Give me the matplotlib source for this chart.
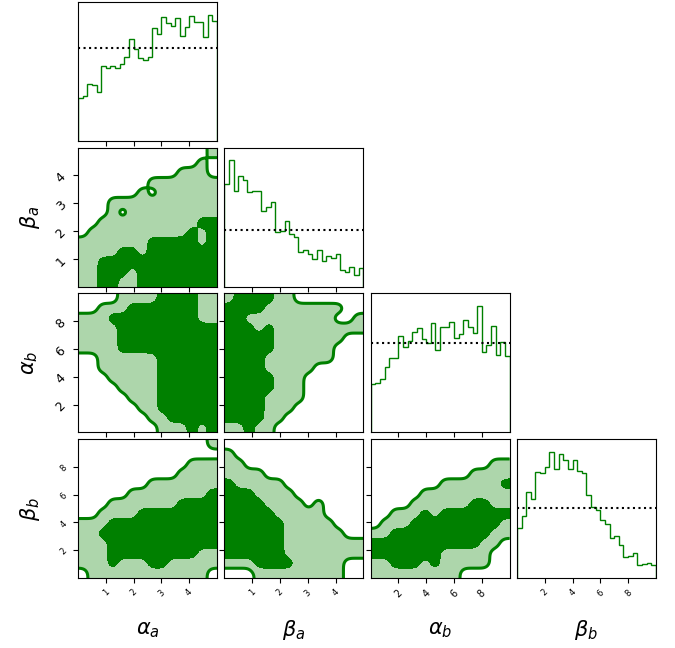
import numpy as np
import matplotlib

matplotlib.use("Agg")
import matplotlib.pyplot as plt

# parameter names, ranges and ticks
labels = [r"$\alpha_a$", r"$\beta_a$", r"$\alpha_b$", r"$\beta_b$"]
ranges = [(0, 5), (0, 5), (0, 10), (0, 10)]
ticks = [[1, 2, 3, 4], [1, 2, 3, 4], [2, 4, 6, 8], [2, 4, 6, 8]]

# 1D marginal histograms (30 bins, relative heights)
hist_alpha_a = [130, 135, 172, 167, 148, 223, 219, 224, 218, 231,
                250, 306, 275, 248, 243, 251, 337, 320, 372, 352,
                345, 368, 314, 342, 373, 357, 357, 312, 378, 358]
hist_beta_a = [306, 378, 285, 332, 318, 283, 285, 287, 226, 237,
               254, 164, 166, 196, 158, 150, 103, 110, 98, 82,
               110, 78, 93, 86, 97, 49, 45, 58, 35, 56]
hist_alpha_b = [146, 149, 161, 197, 224, 223, 290, 257, 275, 300,
                314, 280, 269, 328, 247, 317, 315, 332, 282, 294,
                336, 317, 297, 379, 242, 261, 318, 232, 270, 229]
hist_beta_b = [151, 187, 259, 238, 317, 314, 333, 378, 326, 372,
               352, 327, 352, 319, 315, 249, 214, 205, 175, 162,
               120, 126, 100, 62, 65, 74, 39, 42, 45, 40]
hists = [hist_alpha_a, hist_beta_a, hist_alpha_b, hist_beta_b]

# 2D credible regions, coarse 14x14 grid, top row first
# 0 = outside, 1 = outer region, 2 = inner region
region_alpha_a_beta_a = [
    "00000000000001",
    "00000000000010",
    "00000000001110",
    "00000001111111",
    "00000010111111",
    "00011111111111",
    "00010111111111",
    "00111111111122",
    "01111111111212",
    "11111112222212",
    "11112212222222",
    "11222222222222",
    "11222122222222",
    "11221122222222",
]
region_alpha_a_alpha_b = [
    "00001111222211",
    "00111222222211",
    "11122222222211",
    "11112222222222",
    "11112222222222",
    "11112222222222",
    "00111111222222",
    "00111111222222",
    "00011111222222",
    "00001111222222",
    "00000111222222",
    "00000011222222",
    "00000001122222",
    "00000000111212",
]
region_alpha_a_beta_b = [
    "00000000000001",
    "00000000000000",
    "00000000000111",
    "00000000001111",
    "00000001111111",
    "00000111111112",
    "00011111112222",
    "00111122222222",
    "11122222222222",
    "11222222222222",
    "11122222222222",
    "11122222222211",
    "11121112211111",
    "01111111111110",
]
region_beta_a_alpha_b = [
    "12222110000000",
    "22221111111100",
    "22111111111001",
    "22212111111111",
    "22222111111100",
    "22222111111000",
    "22221111111000",
    "22221111100000",
    "22222111000000",
    "22222111000000",
    "22221111000000",
    "22221110000000",
    "22221100000000",
    "11211000000000",
]
region_beta_a_beta_b = [
    "00000000000000",
    "10000000000000",
    "11000000000000",
    "11110000000000",
    "21111100000000",
    "22211110000000",
    "22221111010000",
    "22222111110000",
    "22222211111000",
    "22222211111100",
    "22222211111111",
    "22222211111111",
    "11122221111100",
    "00011111111100",
]
region_alpha_b_beta_b = [
    "00000000000000",
    "00000000000000",
    "00000000000011",
    "00000000001111",
    "00000001111112",
    "00000111111111",
    "00001111112211",
    "00111212222222",
    "01112222222221",
    "11222222222211",
    "22222222222110",
    "22222221111100",
    "11222121111100",
    "11111111100000",
]
regions = {
    (1, 0): region_alpha_a_beta_a,
    (2, 0): region_alpha_a_alpha_b,
    (3, 0): region_alpha_a_beta_b,
    (2, 1): region_beta_a_alpha_b,
    (3, 1): region_beta_a_beta_b,
    (3, 2): region_alpha_b_beta_b,
}

GREEN = "green"
LIGHT_GREEN = "#add6ab"


def smooth(grid, m=140, sigma=3.0):
    # bilinear resampling of the coarse grid, then a gaussian blur
    z = np.array([[int(c) for c in row] for row in grid], dtype=float)[::-1]
    nr, nc = z.shape
    u = np.linspace(0, 1, m)
    cr = (np.arange(nr) + 0.5) / nr
    cc = (np.arange(nc) + 0.5) / nc
    z = np.array([np.interp(u, cc, row) for row in z])
    z = np.array([np.interp(u, cr, col) for col in z.T]).T
    k = np.arange(-int(3 * sigma), int(3 * sigma) + 1)
    kern = np.exp(-0.5 * (k / sigma) ** 2)
    kern /= kern.sum()
    pad = len(k) // 2
    zp = np.pad(z, pad, mode="edge")
    zp = np.apply_along_axis(lambda v: np.convolve(v, kern, mode="valid"), 0, zp)
    zp = np.apply_along_axis(lambda v: np.convolve(v, kern, mode="valid"), 1, zp)
    return zp


def main() -> None:
    fig = plt.figure(figsize=(6.75, 6.48), dpi=100)
    W, H = 675, 648
    size = 139
    n = len(labels)

    for i in range(n):
        for j in range(i + 1):
            left = (78 + 146.3 * j) / W
            bottom = (H - (2 + 145.7 * i) - size) / H
            ax = fig.add_axes([left, bottom, size / W, size / H])
            xlo, xhi = ranges[j]

            if i == j:
                counts = np.array(hists[i], dtype=float)
                edges = np.linspace(xlo, xhi, len(counts) + 1)
                ax.stairs(counts, edges, color=GREEN, linewidth=1.0)
                ax.axhline(counts.mean(), color="black", linestyle=":", linewidth=1.5)
                ax.set_ylim(0, 1.1 * counts.max())
                ax.set_yticks([])
            else:
                ylo, yhi = ranges[i]
                z = smooth(regions[(i, j)])
                xs = np.linspace(xlo, xhi, z.shape[1])
                ys = np.linspace(ylo, yhi, z.shape[0])
                ax.contourf(xs, ys, z, levels=[0.5, 1.5, 3.0],
                            colors=[LIGHT_GREEN, GREEN])
                ax.contour(xs, ys, z, levels=[0.5], colors=GREEN, linewidths=2.2)
                ax.set_ylim(ylo, yhi)
                ax.set_yticks(ticks[i])
                if j == 0:
                    ysize = 6 if i == 3 else 9
                    ax.set_yticklabels([str(t) for t in ticks[i]], rotation=45,
                                       fontsize=ysize)
                else:
                    ax.set_yticklabels([])

            ax.set_xlim(xlo, xhi)
            ax.set_xticks(ticks[j])
            if i == n - 1:
                xsize = 7 if j == 2 else 6
                ax.set_xticklabels([str(t) for t in ticks[j]], rotation=45,
                                   fontsize=xsize)
            else:
                ax.set_xticklabels([])

    # axis labels
    for j in range(n):
        cx = (78 + 146.3 * j + size / 2) / W
        fig.text(cx, 1 - 630 / H, labels[j], fontsize=15, ha="center", va="center")
    for i in range(1, n):
        cy = 1 - (2 + 145.7 * i + size / 2) / H
        fig.text(30 / W, cy, labels[i], fontsize=15, ha="center", va="center",
                 rotation=90)

    fig.savefig("out.png", dpi=100)


if __name__ == "__main__":
    main()
